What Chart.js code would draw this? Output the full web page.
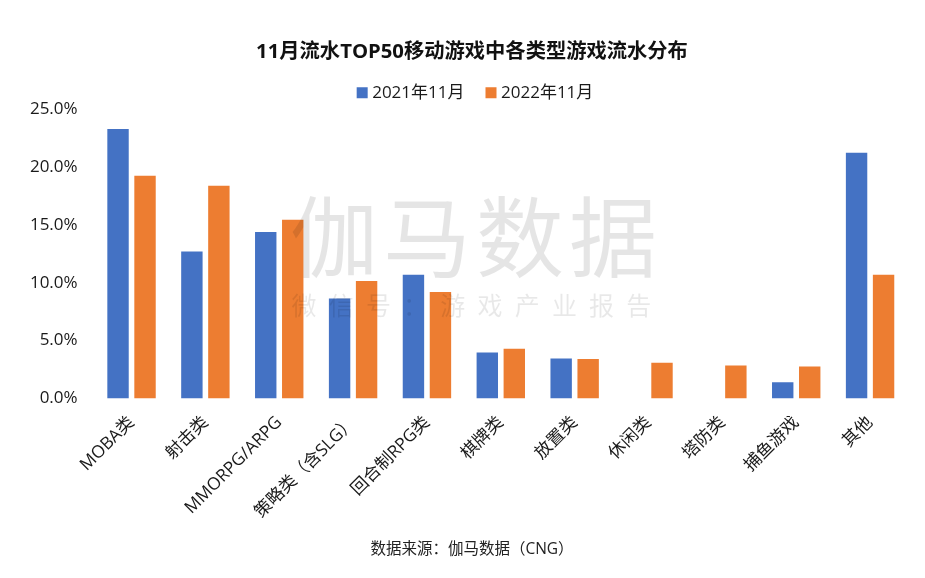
<!DOCTYPE html>
<html>
<head>
<meta charset="utf-8">
<script src="https://cdn.jsdelivr.net/npm/chart.js@4"></script>
<style>
    html, body { margin: 0; padding: 0; background: #fff; }
    #box { width: 925px; height: 578px; }
</style>
</head>
<body>
<div id="box"><canvas id="genreChart"></canvas></div>
<script>
const categories = ["MOBA类", "射击类", "MMORPG/ARPG", "策略类（含SLG）", "回合制RPG类", "棋牌类", "放置类", "休闲类", "塔防类", "捕鱼游戏", "其他"];
const values2021 = [23.3, 12.7, 14.4, 8.65, 10.7, 3.97, 3.45, null, null, 1.4, 21.25];
const values2022 = [19.26, 18.4, 15.45, 10.15, 9.2, 4.3, 3.4, 3.08, 2.85, 2.75, 10.7];
const seriesNames = ["2021年11月", "2022年11月"];
const titleText = "11月流水TOP50移动游戏中各类型游戏流水分布";
const sourceText = "数据来源：伽马数据（CNG）";
const markBig = "伽马数据";
const markSmall = "微信号：游戏产业报告";

const fontFamily = '"Open Sans", "Noto Sans CJK SC", sans-serif';
const cjkFamily = '"Noto Sans CJK SC", sans-serif';

// watermark sits on top of the bars in the reference
const watermark = {
    id: "watermark",
    afterDraw(chart) {
        const ctx = chart.ctx;
        ctx.save();
        ctx.textAlign = "center";
        ctx.textBaseline = "middle";
        ctx.fillStyle = "rgba(0,0,0,0.1)";
        ctx.font = "400 88px " + cjkFamily;
        [...markBig].forEach((ch, i) => ctx.fillText(ch, 334 + i * 93, 237));
        ctx.fillStyle = "rgba(0,0,0,0.09)";
        ctx.font = "400 25px " + cjkFamily;
        [...markSmall].forEach((ch, i) => ctx.fillText(ch, 304 + i * 37.2, 305));
        ctx.restore();
    }
};

// legend needs a wide gap between items but must not push the plot down
const legendTrim = {
    id: "legendTrim",
    beforeInit(chart) {
        const fit = chart.legend.fit;
        chart.legend.fit = function () {
            fit.call(this);
            this.height -= 2;
        };
    },
    afterLayout(chart) {
        chart.legend.left += 10;
    }
};

new Chart(document.getElementById("genreChart"), {
    type: "bar",
    data: {
        labels: categories,
        datasets: [
            { label: seriesNames[0], data: values2021, backgroundColor: "#4472C4" },
            { label: seriesNames[1], data: values2022, backgroundColor: "#ED7D31" }
        ]
    },
    options: {
        responsive: true,
        maintainAspectRatio: false,
        animation: false,
        devicePixelRatio: 1,
        layout: { padding: { top: 0, right: 10, bottom: 0, left: 29 } },
        datasets: { bar: { categoryPercentage: 0.731, barPercentage: 0.793 } },
        plugins: {
            title: {
                display: true,
                text: titleText,
                color: "#111",
                font: { family: fontFamily, size: 20.3, weight: "bold" },
                padding: { top: 40, bottom: -5 }
            },
            subtitle: {
                display: true,
                position: "bottom",
                text: sourceText,
                color: "#222",
                font: { family: fontFamily, size: 15.5 },
                padding: { top: 0, bottom: 19 }
            },
            legend: {
                position: "top",
                labels: {
                    usePointStyle: true,
                    pointStyle: "rect",
                    boxWidth: 3,
                    boxHeight: 11,
                    padding: 25,
                    color: "#1a1a1a",
                    font: { family: fontFamily, size: 17 }
                }
            },
            tooltip: { enabled: false }
        },
        scales: {
            x: {
                grid: { display: false },
                border: { display: false },
                afterFit(axis) { axis.height = 142; },
                ticks: {
                    minRotation: 45,
                    maxRotation: 45,
                    padding: 6,
                    color: "#1a1a1a",
                    font: { family: fontFamily, size: 17.3 }
                }
            },
            y: {
                min: 0,
                max: 25,
                grid: { display: false },
                border: { display: false },
                afterFit(axis) { axis.width = 65.6; },
                ticks: {
                    stepSize: 5,
                    padding: 9,
                    color: "#1a1a1a",
                    font: { family: fontFamily, size: 17 },
                    callback: v => v.toFixed(1) + "%"
                }
            },
            // empty axis, only keeps the plot's right edge while title stays centred like the original
            spacer: {
                position: "right",
                grid: { display: false },
                border: { display: false },
                ticks: { display: false },
                afterFit(axis) { axis.width = 8; }
            }
        }
    },
    plugins: [watermark, legendTrim]
});
</script>
</body>
</html>
